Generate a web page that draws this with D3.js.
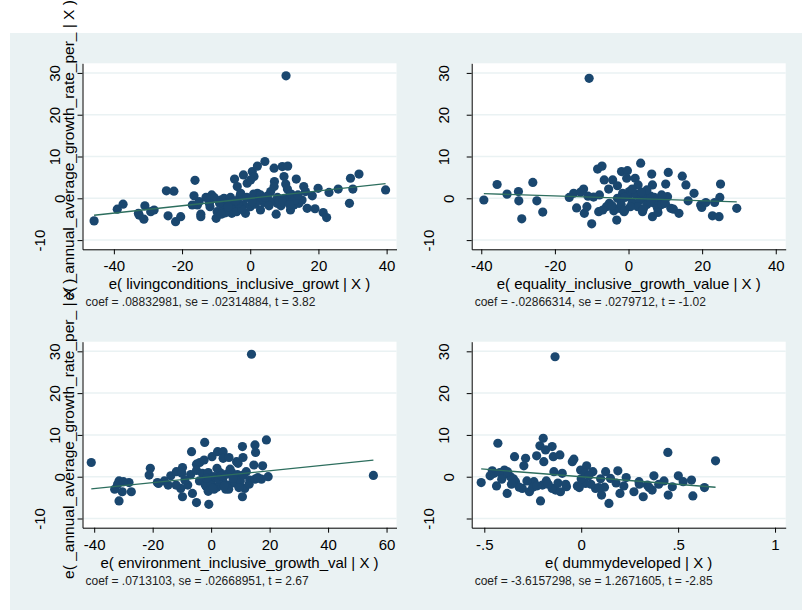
<!DOCTYPE html>
<html>
<head>
<meta charset="utf-8">
<script src="https://cdn.jsdelivr.net/npm/d3@7"></script>
<style>
body { margin: 0; background: #fff; }
svg text { font-family: "Liberation Sans", Arial, sans-serif; fill: #000; }
</style>
</head>
<body>
<div id="chart"></div>
<script>
// residual pairs [e(x|X), e(y|X)]
var livingPts = [
  [-45.8,-5.4],[-39,-2.6],[-37.3,-1.4],[-32.6,-4.0],[-31.2,-5.0],[-32.8,-3.6],[-30.9,-1.8],[-29.2,-3.2],
  [-28.2,-2.8],[-24.6,1.8],[-22.4,1.7],[-24.1,-4.2],[-21.9,-5.6],[-20.4,-4.4],[-16.2,4.3],[-16.5,0.6],
  [-17,-1.6],[-15.5,-1.6],[-14.5,-3.8],[-14.5,-4.4],[-15,-0.8],[-11.8,-2.0],[-11.3,0.8],[-10.6,0.2],
  [-10,-4.8],[-9.7,-3.2],[-8.7,-0.4],[-7.7,0],[-7,-1.2],[-5.8,0.2],[-6.3,-3.2],[-5.4,-3.6],[-4.8,-2],
  [-4.6,4.6],[-3.8,2.8],[-2.8,1.2],[-2,5.6],[-1.4,-3.6],[-0.9,3.6],[0.6,6.4],[1.1,5.2],[0.1,4.4],
  [2.1,7.7],[2.1,1.2],[3,-2.8],[4.3,8.8],[6,1.6],[7,7.2],[7.1,4.0],[7,2.8],[7.6,-3.8],[7.9,-1.2],
  [9.4,7.6],[11,7.7],[9.9,5.2],[10.4,3.4],[10.9,2.2],[11.3,0.4],[11.8,-2.8],[13.5,4.6],[12.8,-1.6],
  [14.3,-1.2],[15.2,-0.4],[15.7,2.8],[16.2,1.6],[18.2,0.6],[16.7,-2.4],[19,-2.5],[19.9,2.4],[21.4,-3.4],
  [22.4,-4.6],[23.1,1.4],[25.8,2.2],[29.1,-1.2],[29.4,4.8],[30.1,2.2],[31.9,5.8],[39.7,2.0],[10.5,29.3],
  [-8,-2.5],[-6,-1],[-5,-2.8],[-3,0.5],[-2,-1.5],[-1,0.2],[0,-2],[1,1],[2,-0.5],[3,0.8],[4,-1],[5,0.5],
  [6,-0.8],[8,0.2],[9,-1.8],[10,0],[12,1],[13,-0.5],[14,0.8],[-4,-3.2],[-7.5,-3.5],[-9,-1.2],[-12,-1.2],
  [-13,0.2],[3.5,-0.2],[5.5,-1.8],[8.5,-0.6],[-2.5,-2.6],[1.5,-1.4],[-6.5,-2],[-3.5,-1.2],[0.5,-0.8],
  [4.5,0.2],[9.5,-0.8],[11.5,-1.5],[-8.5,-3.8],[-4.2,-0.6]
];
var equalityPts = [
  [-39.3,-0.4],[-35.7,3.3],[-33,1.0],[-29.9,1.6],[-29.8,-0.6],[-29,-4.9],[-26,3.8],[-24.9,-0.6],
  [-23.3,-3.3],[-16.1,0.2],[-14.9,1.2],[-14.1,-2.3],[-12.2,2.2],[-12,-3.6],[-11.3,-2.0],[-10,-6.1],
  [-8.4,7.0],[-7.2,7.7],[-6.6,4.4],[-8.1,-3.2],[-7.9,0.8],[-5.4,2.2],[-4.3,4.4],[-5.2,-1.2],[-3.2,-5.2],
  [-3,3.0],[-1.9,6.4],[-0.3,6.6],[-0.5,4.8],[-1.6,1.2],[-2.5,-2.4],[-1.2,-3.2],[0.2,1.6],[1.8,4.8],
  [2.6,3.2],[3.3,8.4],[3.8,-3.2],[4.7,0],[6.3,5.8],[6.5,3.2],[6.5,-4.4],[7,-1.2],[7.9,-2.4],[10.1,3.4],
  [10.8,6.2],[10.6,0.4],[11.5,-2.4],[12.2,-2.6],[13.7,-3.6],[14.6,5.3],[15.6,3.2],[16.2,-0.6],[17.8,1.2],
  [19.6,-1.6],[19.9,-2.2],[21,-1.0],[22.8,-4.2],[24.6,-4.4],[24.8,0.2],[25,3.4],[23.4,-1.0],[29.4,-2.4],
  [-10.7,28.7],
  [-6,-2],[-4,-3],[-2,-1.5],[0,0.5],[1,-1],[2,1],[3,-0.5],[4,1.2],[5,-1.5],[6,0.5],[8,-0.5],[9,-1.5],
  [-7,-2.8],[-3,0],[1,2.2],[5,2],[7,0.2],[-1,-2.8],[2.5,-2],[9,0.8],[-9.5,0.3],[-11,0.5],[-13,1.5],
  [4,-2.6],[8,-3.4],[-4.5,-1.8],[0.5,-2],[3.5,1.5],[6,-0.8],[-1,0.2],[10,-1.2]
];
var environmentPts = [
  [-41,3.4],[-33,-3.0],[-31.5,-1.0],[-31.5,-5.8],[-30.4,-3.6],[-28.1,-1.4],[-27.3,-3.6],[-32,-1.8],
  [-30,-1.2],[-21.2,0.4],[-20.8,2.0],[-18.4,-1.4],[-14.7,-2.0],[-13.8,0.2],[-11.9,1.2],[-10.4,-2.8],
  [-9.8,-4.8],[-9.8,2.2],[-6.7,6.0],[-6.4,-4.0],[-5,-6.2],[-5,3.0],[-3.9,3.4],[-2.2,8.2],[-2.4,4.0],
  [-1.6,-2.4],[-0.8,-6.6],[0.3,4.8],[2.2,6.0],[4.1,6.0],[4.1,4.4],[6.1,4.6],[8.7,3.6],[9.2,3.2],
  [10.7,7.2],[10.9,4.6],[10.7,-4.8],[11.5,-2.8],[13.2,-0.8],[15,7.6],[15.2,5.8],[14.6,2.8],[17.6,2.6],
  [18.9,8.8],[17.2,-0.6],[19.5,0],[55.5,0.3],[13.8,29.3],
  [-8,-2],[-7,0.5],[-5,1.5],[-4,-1],[-3,0.8],[-2,-2],[-1,1],[0,-1.5],[1,0],[2,-2.5],[3,1],[4,-1],
  [5,0.5],[6,-2],[7,1],[8,-1.5],[9,0.5],[10,-1],[12,1.2],[-10,0.8],[-12,-2],[-16,-1],[-18,-1.6],[2,2],
  [6,-3],[-1,-3.5],[5,-3],[13,-1.8],[15,-0.6],[16,-0.2],[-9,-0.8],[3,-2],[1,-3],[0.5,-2.8],[2.5,-0.6],
  [4.5,-2.2],[7.5,-0.4],[9.5,-2.6],[-1.5,-0.4],[11,0.4],[3.5,0.2],[6.5,1.8]
];
var developedPts = [
  [-0.516,-1.4],[-0.459,1.4],[-0.437,-2.2],[-0.43,8.0],[-0.396,1.6],[-0.382,-4.0],[-0.365,0],
  [-0.344,4.8],[-0.339,-1.2],[-0.304,-2.8],[-0.296,2.6],[-0.287,4.4],[-0.267,-3.6],[-0.244,-1.2],
  [-0.23,5.0],[-0.21,-5.8],[-0.213,7.4],[-0.196,9.2],[-0.193,3.6],[-0.184,6.4],[-0.15,7.2],[-0.144,4.8],
  [-0.11,5.2],[-0.141,1.2],[-0.132,-3.2],[-0.098,0.8],[-0.107,-3.6],[-0.076,-2.4],[-0.046,3.6],
  [-0.038,4.2],[-0.003,1.6],[0.022,-1.6],[0.028,2.6],[0.06,1.2],[0.074,-2.8],[0.105,-4.4],[0.126,1.2],
  [0.143,-6.4],[0.151,-0.4],[0.189,1.4],[0.2,-4.0],[0.232,-0.2],[0.272,-3.6],[0.298,-1.2],[0.32,-4.8],
  [0.341,-2.0],[0.375,0.2],[0.366,-3.2],[0.427,-1.0],[0.447,5.8],[0.449,-4.4],[0.47,-2.4],[0.501,0.2],
  [0.526,-1.2],[0.569,-0.8],[0.576,-4.6],[0.636,-2.6],[0.693,3.8],[-0.135,28.7],
  [-0.45,0.8],[-0.42,1.0],[-0.4,0.5],[-0.35,-0.5],[-0.32,-2.5],[-0.25,-2.5],[-0.2,-2],[-0.18,-1],
  [-0.15,-2.8],[-0.12,-1.5],[-0.08,-1.8],[-0.02,-2.2],[0,-0.5],[0.02,0.8],[0.05,-1.8],[0.1,-0.5],
  [0.18,-1.5],[0.22,-2.2],[0.3,-1.8],[0.35,-2.6],[0.4,-1.8],[-0.38,1.2],[-0.28,-1],[0.12,-2.5],
  [-0.01,-2.6],[0.09,-2.6],[-0.47,0.2],[-0.41,-0.6],[-0.36,-1.8],[-0.23,-2.2],[-0.17,-1.8],[0.04,0.2]
];

var coefs = [0.08832981, -0.02866314, 0.0713103, -3.6157298];
var notes = [
  "coef = .08832981, se = .02314884, t = 3.82",
  "coef = -.02866314, se = .0279712, t = -1.02",
  "coef = .0713103, se = .02668951, t = 2.67",
  "coef = -3.6157298, se = 1.2671605, t = -2.85"
];
var xTitles = [
  "e( livingconditions_inclusive_growt | X )",
  "e( equality_inclusive_growth_value | X )",
  "e( environment_inclusive_growth_val | X )",
  "e( dummydeveloped | X )"
];
var yTitle = "e( _annual_average_growth_rate_per_ | X )";

var yTicks = [-10, 0, 10, 20, 30];
var yTickLabels = ["-10", "0", "10", "20", "30"];
var xTicks40 = [-40, -20, 0, 20, 40];
var xTickLabels40 = ["-40", "-20", "0", "20", "40"];
var xTicks60 = [-40, -20, 0, 20, 40, 60];
var xTickLabels60 = ["-40", "-20", "0", "20", "40", "60"];
var xTicksDummy = [-0.5, 0, 0.5, 1];
var xTickLabelsDummy = ["-.5", "0", ".5", "1"];

var bg = "#EAF2F3", navy = "#1A476F", fitColor = "#2D6E5E";
var w = 314, h = 186;
var yDomain = [-12.2, 32.3];
// stata shoves rotated labels sideways by their length
var yLabelOffset = {1: 17.5, 2: 23, 3: 37.5};

var panels = [
  {pts: livingPts, coef: coefs[0], note: notes[0], xTitle: xTitles[0], ticks: xTicks40, labels: xTickLabels40,
   left: 82.5, top: 63.3, xDomain: [-49.2, 42.9], hasYTitle: true},
  {pts: equalityPts, coef: coefs[1], note: notes[1], xTitle: xTitles[1], ticks: xTicks40, labels: xTickLabels40,
   left: 471.7, top: 63.3, xDomain: [-42.6, 42.7], hasYTitle: false},
  {pts: environmentPts, coef: coefs[2], note: notes[2], xTitle: xTitles[2], ticks: xTicks60, labels: xTickLabels60,
   left: 82.5, top: 341.7, xDomain: [-44, 63.4], hasYTitle: true},
  {pts: developedPts, coef: coefs[3], note: notes[3], xTitle: xTitles[3], ticks: xTicksDummy, labels: xTickLabelsDummy,
   left: 471.7, top: 341.7, xDomain: [-0.565, 1.055], hasYTitle: false}
];

var svg = d3.select("#chart").append("svg")
  .attr("width", 802)
  .attr("height", 611);

svg.append("rect")
  .attr("x", 10).attr("y", 33)
  .attr("width", 792).attr("height", 577)
  .attr("fill", bg);

panels.forEach(function(p) {
  var x = d3.scaleLinear().domain(p.xDomain).range([0, w]);
  var y = d3.scaleLinear().domain(yDomain).range([h, 0]);
  var g = svg.append("g").attr("transform", "translate(" + p.left + "," + p.top + ")");

  g.append("rect").attr("width", w).attr("height", h).attr("fill", "#fff");

  g.selectAll(".grid").data(yTicks).enter().append("line")
    .attr("class", "grid")
    .attr("x1", 0).attr("x2", w)
    .attr("y1", function(d) { return y(d); })
    .attr("y2", function(d) { return y(d); })
    .attr("stroke", bg)
    .attr("stroke-width", 1.5);

  g.selectAll(".dot").data(p.pts).enter().append("circle")
    .attr("class", "dot")
    .attr("cx", function(d) { return x(d[0]); })
    .attr("cy", function(d) { return y(d[1]); })
    .attr("r", 4.6)
    .attr("fill", navy);

  // fitted line goes through the origin for residuals
  var ext = d3.extent(p.pts, function(d) { return d[0]; });
  g.append("line")
    .attr("x1", x(ext[0])).attr("y1", y(p.coef * ext[0]))
    .attr("x2", x(ext[1])).attr("y2", y(p.coef * ext[1]))
    .attr("stroke", fitColor)
    .attr("stroke-width", 1.4);

  var xAxis = g.append("g")
    .attr("transform", "translate(0," + h + ")")
    .call(d3.axisBottom(x).tickValues(p.ticks)
      .tickFormat(function(d, i) { return p.labels[i]; })
      .tickSize(5).tickSizeOuter(0).tickPadding(6.3));
  xAxis.attr("font-family", null).attr("font-size", null);
  xAxis.selectAll("text").style("font-size", "15px");

  var yAxis = g.append("g")
    .call(d3.axisLeft(y).tickValues(yTicks)
      .tickFormat(function(d, i) { return yTickLabels[i]; })
      .tickSize(5).tickSizeOuter(0));
  yAxis.attr("font-family", null).attr("font-size", null);
  yAxis.selectAll("text")
    .attr("x", 0).attr("dy", 0)
    .attr("text-anchor", "middle")
    .style("font-size", "15px")
    .attr("transform", function(d, i) {
      return "translate(" + (-yLabelOffset[yTickLabels[i].length]) + ",0) rotate(-90)";
    });

  g.append("text")
    .attr("x", w / 2).attr("y", h + 40)
    .attr("text-anchor", "middle")
    .style("font-size", "15px")
    .text(p.xTitle);

  g.append("text")
    .attr("x", 3).attr("y", h + 57)
    .style("font-size", "12px")
    .style("fill", "#222")
    .text(p.note);

  if (p.hasYTitle) {
    g.append("text")
      .attr("transform", "translate(-8.5," + (h / 2 - 6) + ") rotate(-90)")
      .attr("text-anchor", "middle")
      .style("font-size", "15.5px")
      .text(yTitle);
  }
});
</script>
</body>
</html>
